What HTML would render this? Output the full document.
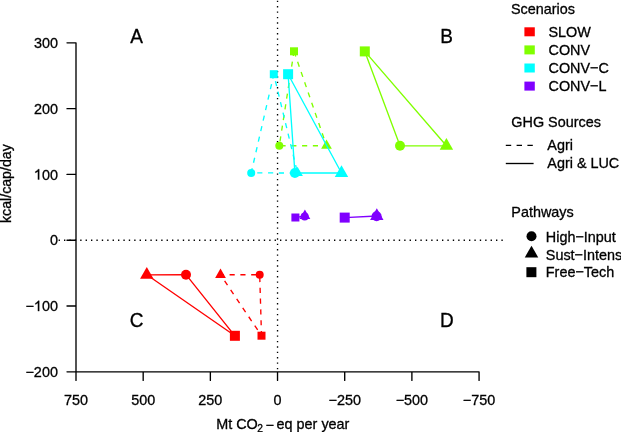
<!DOCTYPE html><html><head><meta charset="utf-8"><style>html,body{margin:0;padding:0;background:#fff;}svg{display:block;will-change:transform;}text{font-family:"Liberation Sans",sans-serif;stroke:#000;stroke-width:0.3px;}</style></head><body>
<svg width="621" height="432" viewBox="0 0 621 432">
<rect width="621" height="432" fill="#fff"/>
<line x1="277.54" y1="0.72" x2="277.54" y2="372" stroke="#000" stroke-width="1.35" stroke-dasharray="1.35 4.05"/>
<line x1="58.6" y1="240.22" x2="503.2" y2="240.22" stroke="#000" stroke-width="1.35" stroke-dasharray="1.35 4.05"/>
<path d="M67 42.85H76V371.8M67 108.64H76M67 174.43H76M67 240.22H76M67 306.01H76M67 371.8H76M76 371.8H479.07M76 371.8V380.4M143.18 371.8V380.4M210.36 371.8V380.4M277.53 371.8V380.4M344.71 371.8V380.4M411.89 371.8V380.4M479.07 371.8V380.4" fill="none" stroke="#000" stroke-width="1.35" stroke-linecap="round" stroke-linejoin="round"/>
<text x="57.9" y="47.95" font-size="14.4" text-anchor="end">300</text>
<text x="57.9" y="113.74" font-size="14.4" text-anchor="end">200</text>
<text x="57.9" y="179.53" font-size="14.4" text-anchor="end"> 00</text>
<path transform="translate(33.87,179.53)" d="M5.35 0H4.05V-8.15C3.3-7.5 2.4-7.0 1.5-6.65V-7.95C2.7-8.5 3.7-9.3 4.3-10.35H5.35Z" fill="#000" stroke="#000" stroke-width="0.3"/>
<text x="57.9" y="245.32" font-size="14.4" text-anchor="end">0</text>
<text x="57.9" y="311.11" font-size="14.4" text-anchor="end">− 00</text>
<path transform="translate(33.87,311.11)" d="M5.35 0H4.05V-8.15C3.3-7.5 2.4-7.0 1.5-6.65V-7.95C2.7-8.5 3.7-9.3 4.3-10.35H5.35Z" fill="#000" stroke="#000" stroke-width="0.3"/>
<text x="57.9" y="376.9" font-size="14.4" text-anchor="end">−200</text>
<text x="76" y="404.7" font-size="14.4" text-anchor="middle">750</text>
<text x="143.18" y="404.7" font-size="14.4" text-anchor="middle">500</text>
<text x="210.36" y="404.7" font-size="14.4" text-anchor="middle">250</text>
<text x="277.53" y="404.7" font-size="14.4" text-anchor="middle">0</text>
<text x="344.71" y="404.7" font-size="14.4" text-anchor="middle">−250</text>
<text x="411.89" y="404.7" font-size="14.4" text-anchor="middle">−500</text>
<text x="479.07" y="404.7" font-size="14.4" text-anchor="middle">−750</text>
<text transform="translate(216.2 428.6) scale(1 1.05)" font-size="14.4">Mt CO</text>
<text x="257.2" y="432.3" font-size="10.2">2</text>
<text x="265.6" y="430.2" font-size="14.4">−</text>
<text transform="translate(276.6 428.6) scale(1 1.05)" font-size="14.4">eq per year</text>
<text transform="translate(11,183.6) rotate(-90) scale(1 1.05)" font-size="14.2" text-anchor="middle">kcal/cap/day</text>
<text transform="translate(136.5 43.2) scale(1 1.05)" font-size="19" text-anchor="middle">A</text>
<text transform="translate(446.6 42.9) scale(1 1.05)" font-size="19" text-anchor="middle">B</text>
<text transform="translate(136.5 327.3) scale(1 1.05)" font-size="19" text-anchor="middle">C</text>
<text transform="translate(446.9 327.3) scale(1 1.05)" font-size="19" text-anchor="middle">D</text>
<path d="M261.5 335.7L259.7 274.7L220.5 274.8Z" fill="none" stroke="#FF0000" stroke-width="1.35" stroke-dasharray="5.15 5.65" stroke-dashoffset="0.4"/>
<rect x="257.5" y="331.7" width="8" height="8" fill="#FF0000"/>
<circle cx="259.7" cy="274.7" r="4" fill="#FF0000"/>
<polygon points="220.5,268.58 225.89,277.91 215.11,277.91" fill="#FF0000"/>
<path d="M234.9 335.8L186 274.7L146.8 274.8Z" fill="none" stroke="#FF0000" stroke-width="1.35" stroke-linejoin="round"/>
<rect x="229.9" y="330.8" width="10" height="10" fill="#FF0000"/>
<circle cx="186" cy="274.7" r="5" fill="#FF0000"/>
<polygon points="146.8,267.02 153.53,278.69 140.07,278.69" fill="#FF0000"/>
<path d="M294 51.3L279.3 145.8L326.5 145.7Z" fill="none" stroke="#80FF00" stroke-width="1.35" stroke-dasharray="5.15 5.65" stroke-dashoffset="0.4"/>
<rect x="290" y="47.3" width="8" height="8" fill="#80FF00"/>
<circle cx="279.3" cy="145.8" r="4" fill="#80FF00"/>
<polygon points="326.5,139.48 331.89,148.81 321.11,148.81" fill="#80FF00"/>
<path d="M364.8 51.4L400 145.8L446.4 145.8Z" fill="none" stroke="#80FF00" stroke-width="1.35" stroke-linejoin="round"/>
<rect x="359.8" y="46.4" width="10" height="10" fill="#80FF00"/>
<circle cx="400" cy="145.8" r="5" fill="#80FF00"/>
<polygon points="446.4,138.02 453.13,149.69 439.67,149.69" fill="#80FF00"/>
<path d="M273.8 74.2L251.2 172.9L297.5 173Z" fill="none" stroke="#00FFFF" stroke-width="1.35" stroke-dasharray="5.15 5.65" stroke-dashoffset="0.7"/>
<rect x="269.8" y="70.2" width="8" height="8" fill="#00FFFF"/>
<circle cx="251.2" cy="172.9" r="4" fill="#00FFFF"/>
<polygon points="297.5,166.78 302.89,176.11 292.11,176.11" fill="#00FFFF"/>
<path d="M288.1 74.2L294.9 173L341.5 173Z" fill="none" stroke="#00FFFF" stroke-width="1.35" stroke-linejoin="round"/>
<rect x="283.1" y="69.2" width="10" height="10" fill="#00FFFF"/>
<circle cx="294.9" cy="173" r="5" fill="#00FFFF"/>
<polygon points="341.5,165.22 348.23,176.89 334.77,176.89" fill="#00FFFF"/>
<path d="M295.4 217.5L304.7 216.4L304.9 215.8Z" fill="none" stroke="#8000FF" stroke-width="1.35" stroke-dasharray="5.15 5.65" stroke-dashoffset="0.4"/>
<rect x="291.4" y="213.5" width="8" height="8" fill="#8000FF"/>
<circle cx="304.7" cy="216.4" r="4" fill="#8000FF"/>
<polygon points="304.9,209.58 310.29,218.91 299.51,218.91" fill="#8000FF"/>
<path d="M344.7 217.6L376.6 216.2L376.8 216Z" fill="none" stroke="#8000FF" stroke-width="1.35" stroke-linejoin="round"/>
<rect x="339.7" y="212.6" width="10" height="10" fill="#8000FF"/>
<circle cx="376.6" cy="216.2" r="5" fill="#8000FF"/>
<polygon points="376.8,208.22 383.53,219.89 370.07,219.89" fill="#8000FF"/>
<text transform="translate(510.9 14.3) scale(1 1.05)" font-size="14.4">Scenarios</text>
<rect x="524.4" y="27.3" width="10.4" height="9" fill="#FF0000"/>
<text transform="translate(548.5 36.9) scale(1 1.05)" font-size="14.4">SLOW</text>
<rect x="524.4" y="45.4" width="10.4" height="9" fill="#80FF00"/>
<text transform="translate(548.5 55) scale(1 1.05)" font-size="14.4">CONV</text>
<rect x="524.4" y="63.5" width="10.4" height="9" fill="#00FFFF"/>
<text transform="translate(548.5 73.1) scale(1 1.05)" font-size="14.4">CONV−C</text>
<rect x="524.4" y="81.6" width="10.4" height="9" fill="#8000FF"/>
<text transform="translate(548.5 91.2) scale(1 1.05)" font-size="14.4">CONV−L</text>
<text transform="translate(511.3 127) scale(1 1.05)" font-size="14.4">GHG Sources</text>
<line x1="505.8" y1="145.3" x2="533.6" y2="145.3" stroke="#000" stroke-width="1.35" stroke-dasharray="5.4 5.4"/>
<line x1="505.8" y1="163.5" x2="533.6" y2="163.5" stroke="#000" stroke-width="1.35"/>
<text transform="translate(547.3 150.1) scale(1 1.05)" font-size="14.4">Agri</text>
<text transform="translate(547.3 168) scale(1 1.05)" font-size="14.4">Agri &amp; LUC</text>
<text transform="translate(511.3 217) scale(1 1.05)" font-size="14.4">Pathways</text>
<circle cx="531.5" cy="236.3" r="5" fill="#000"/>
<polygon points="531.5,245.72 538.23,257.39 524.77,257.39" fill="#000"/>
<rect x="526.4" y="267.2" width="10" height="10" fill="#000"/>
<text transform="translate(545.8 241.6) scale(1 1.05)" font-size="14.4">High−Input</text>
<text transform="translate(545.8 259.5) scale(1 1.05)" font-size="14.4">Sust−Intens</text>
<text transform="translate(545.8 277.2) scale(1 1.05)" font-size="14.4">Free−Tech</text>
</svg></body></html>
